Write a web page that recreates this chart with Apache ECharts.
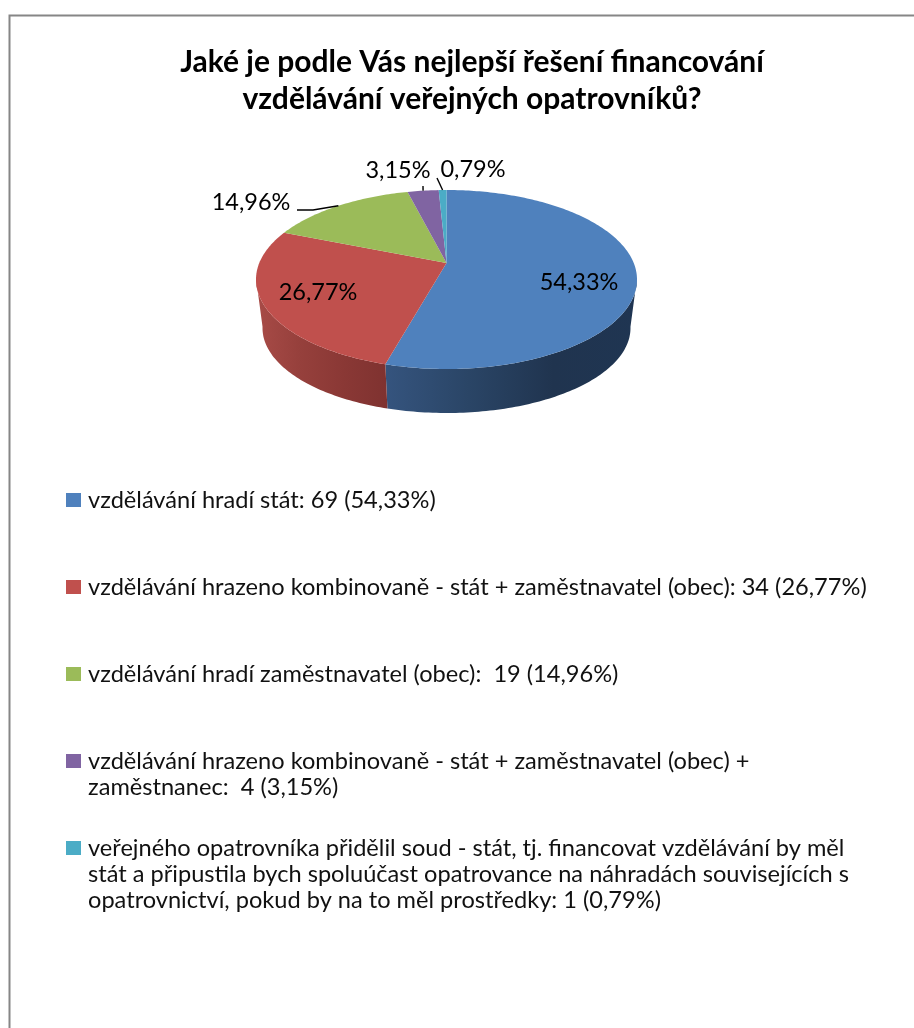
<!DOCTYPE html>
<html>
<head>
<meta charset="utf-8">
<style>html,body{margin:0;padding:0;background:#fff}#main{width:914px;height:1028px}</style>
<script src="https://cdn.jsdelivr.net/npm/echarts@6/dist/echarts.min.js"></script>
</head>
<body>
<div id="main"></div>
<script>
// data
var titleText = 'Jaké je podle Vás nejlepší řešení financování\nvzdělávání veřejných opatrovníků?';
var values = [69, 34, 19, 4, 1];
var percentLabels = ['54,33%', '26,77%', '14,96%', '3,15%', '0,79%'];
var legendLabels = [
  'vzdělávání hradí stát: 69 (54,33%)',
  'vzdělávání hrazeno kombinovaně - stát + zaměstnavatel (obec): 34 (26,77%)',
  'vzdělávání hradí zaměstnavatel (obec):  19 (14,96%)',
  'vzdělávání hrazeno kombinovaně - stát + zaměstnavatel (obec) +\nzaměstnanec:  4 (3,15%)',
  'veřejného opatrovníka přidělil soud - stát, tj. financovat vzdělávání by měl\nstát a připustila bych spoluúčast opatrovance na náhradách souvisejících s\nopatrovnictví, pokud by na to měl prostředky: 1 (0,79%)'
];

// styles and layout
var colors = ['#4f81bd', '#c0504d', '#9bbb59', '#8064a2', '#4bacc6'];
var wallStops = [
  ['#35547e', '#2a4566', '#20344f', '#1f3552'],
  ['#a84b47', '#96403c', '#8a3835', '#7f3230']
];
var fontName = 'Lato, "Noto Sans", sans-serif';
var topRim = {cx: 446.5, cy: 279.5, rx: 190.5, ry: 89.5};
var lowRim = {cx: 446.5, cy: 328, rx: 184, ry: 85};
var tilt = 0.184; // posun stredu kolace proti stredu elipsy (perspektiva)
var labelPos = [[579, 282], [318, 292], [251, 202], [398, 170], [473, 169]];
var leaderFrom = [null, null, [[297, 210], [313, 210]], [[423, 186]], [[437, 178]]];
var legendY = [501, 588, 675, 762, 849];

var total = values.reduce(function (a, b) { return a + b; }, 0);

// podil (0-1, po smeru hodin od vrchu) -> bod na elipse
function project(share, e) {
  var a = share * 2 * Math.PI;
  var u = Math.sin(a), v = Math.cos(a);
  var d = 1 + tilt * v;
  var uu = u * Math.sqrt(1 - tilt * tilt) / d;
  var vv = (v + tilt) / d;
  return {x: e.cx + e.rx * uu, y: e.cy - e.ry * vv, front: vv <= 0.02};
}

function arcPoints(from, to, e) {
  var pts = [];
  var n = Math.max(2, Math.ceil((to - from) * 360));
  for (var i = 0; i <= n; i++) {
    pts.push(project(from + (to - from) * i / n, e));
  }
  return pts;
}

function renderSlice(params, api) {
  var i = params.dataIndex;
  var before = 0;
  for (var k = 0; k < i; k++) before += values[k];
  var from = before / total;
  var to = (before + api.value(0)) / total;
  var children = [];

  // bocni stena
  var rimAll = arcPoints(from, to, topRim);
  var lowAll = arcPoints(from, to, lowRim);
  var rim = rimAll.filter(function (p) { return p.front; });
  var low = lowAll.filter(function (p, j) { return rimAll[j].front; });
  if (rim.length > 1 && wallStops[i]) {
    var poly = rim.concat(low.reverse()).map(function (p) { return [p.x, p.y]; });
    var stops = wallStops[i].map(function (c, j) {
      return {offset: j / (wallStops[i].length - 1), color: c};
    });
    children.push({
      type: 'polygon', shape: {points: poly},
      style: {fill: {type: 'linear', x: 0, y: 0, x2: 1, y2: 0, colorStops: stops}}
    });
  }

  // horni plocha
  var centerX = topRim.cx, centerY = topRim.cy - topRim.ry * tilt;
  var face = [[centerX, centerY]].concat(rimAll.map(function (p) { return [p.x, p.y]; }));
  children.push({type: 'polygon', shape: {points: face}, style: {fill: colors[i]}});

  // popisek a vodici cara
  var mid = project((from + to) / 2, topRim);
  if (leaderFrom[i]) {
    children.push({
      type: 'polyline', z2: 5,
      shape: {points: leaderFrom[i].concat([[mid.x, mid.y]])},
      style: {stroke: '#000', lineWidth: 1.4, fill: null}
    });
  }
  children.push({
    type: 'text', z2: 10, x: labelPos[i][0], y: labelPos[i][1],
    style: {text: percentLabels[i], font: '23.5px ' + fontName, fill: '#000', align: 'center', verticalAlign: 'middle'}
  });
  return {type: 'group', children: children};
}

function renderLegend(params, api) {
  var i = params.dataIndex;
  var y = legendY[i];
  return {type: 'group', children: [
    {type: 'rect', shape: {x: 66, y: y - 8, width: 15, height: 14}, style: {fill: colors[i]}},
    {type: 'text', x: 88, y: y - 14, style: {
      text: legendLabels[i], font: '23.6px ' + fontName, lineHeight: 26, fill: '#111',
      align: 'left', verticalAlign: 'top'
    }}
  ]};
}

var chart = echarts.init(document.getElementById('main'), null, {renderer: 'canvas'});
var option = {
  animation: false,
  backgroundColor: '#fff',
  title: {
    text: titleText,
    left: 467, top: 39, textAlign: 'center',
    textStyle: {fontFamily: fontName, fontSize: 30, fontWeight: 'bold', color: '#000', lineHeight: 37}
  },
  graphic: [{
    type: 'rect', left: 7, top: 13, silent: true,
    shape: {width: 1200, height: 1300},
    style: {fill: 'none', stroke: '#868686', lineWidth: 2}
  }],
  series: [
    {type: 'custom', coordinateSystem: 'none', renderItem: renderSlice, data: values.map(function (v) { return [v]; })},
    {type: 'custom', coordinateSystem: 'none', renderItem: renderLegend, data: legendLabels.map(function (t, i) { return [i]; })}
  ]
};
chart.setOption(option);
</script>
</body>
</html>
